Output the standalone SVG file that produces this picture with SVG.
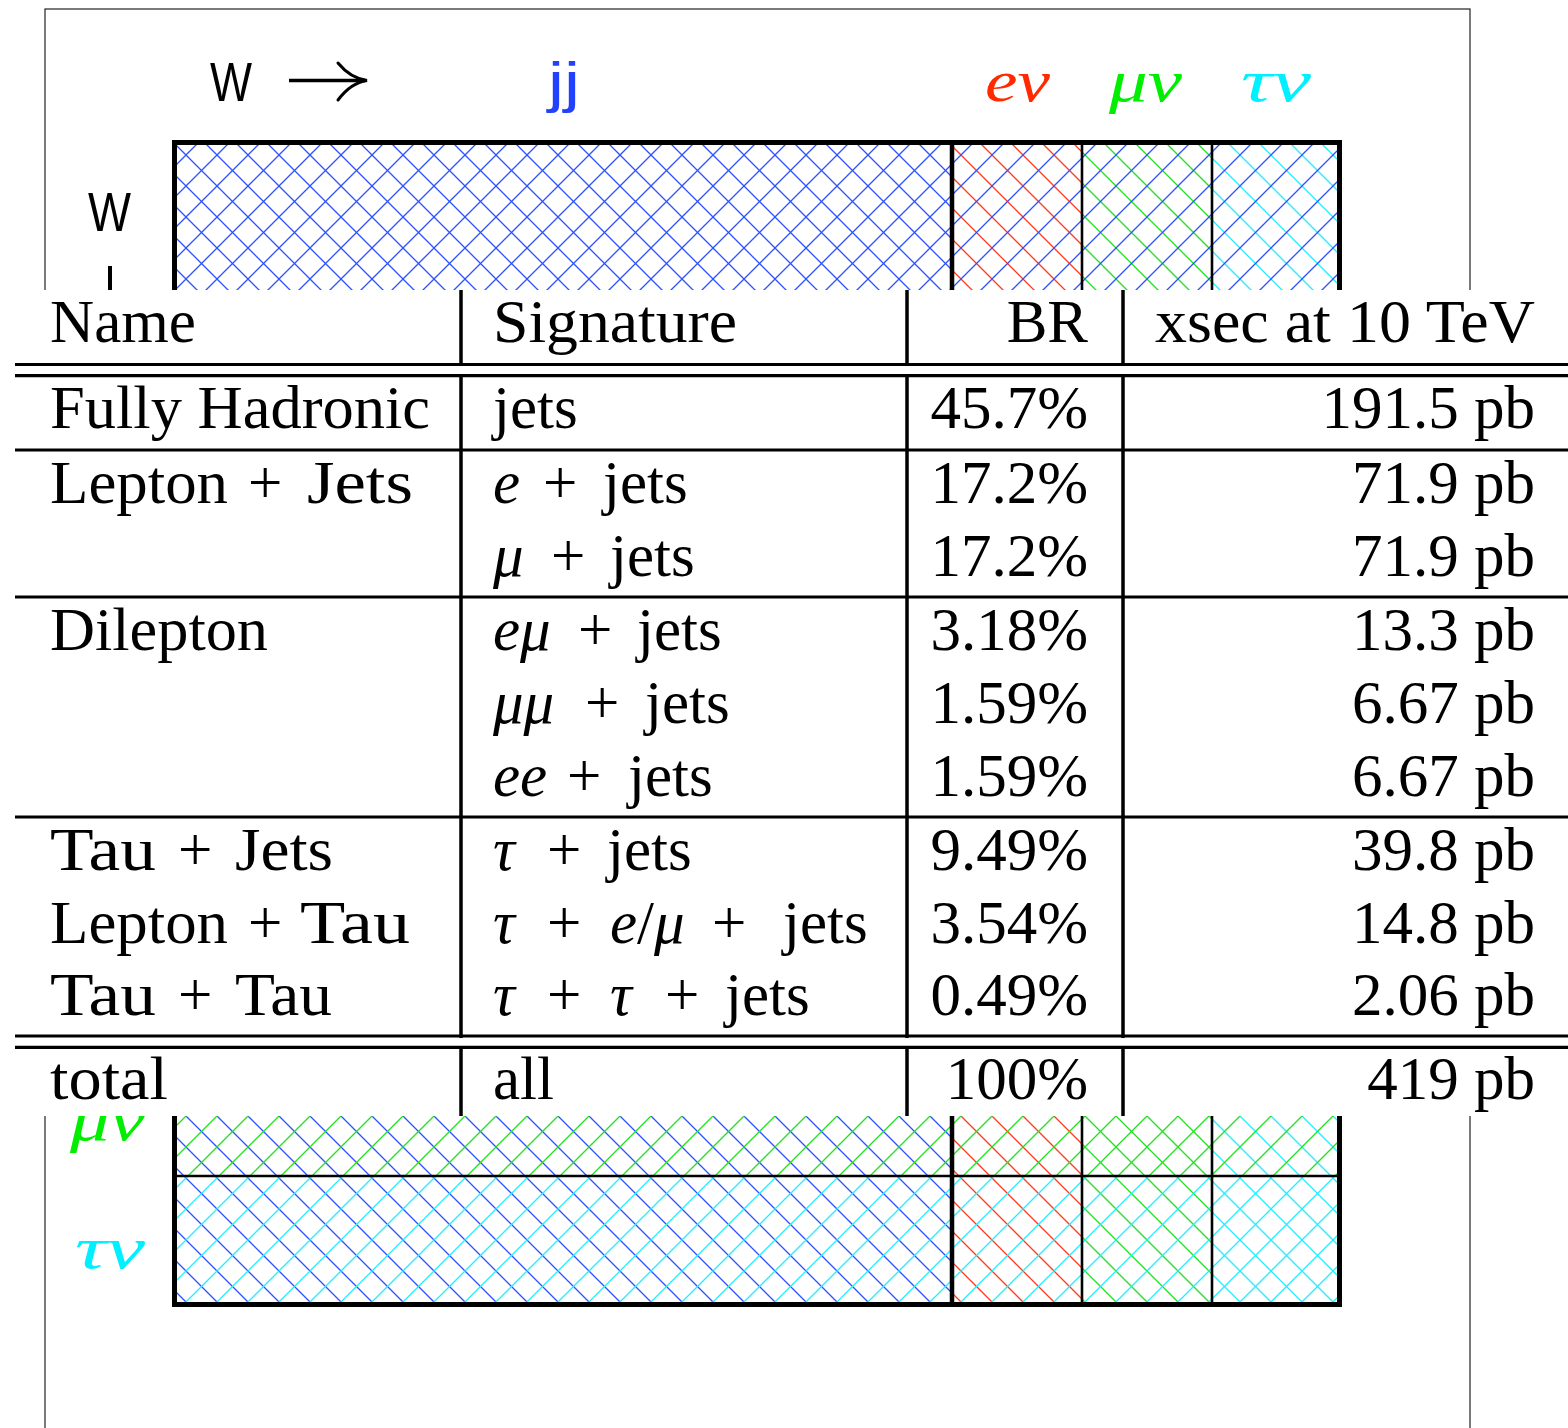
<svg xmlns="http://www.w3.org/2000/svg" width="1568" height="1428" viewBox="0 0 1568 1428">
  <style>
    .frame { fill: none; stroke: #222; stroke-width: 1.2; }
    .cell { stroke: none; }
    .thick { stroke: #000; stroke-width: 5; fill: none; }
    .mid { stroke: #000; stroke-width: 4.5; }
    .thin { stroke: #000; stroke-width: 2.6; }
    .sans { font-family: "Liberation Sans", "DejaVu Sans", Arial, sans-serif; font-size: 56px; fill: #000; }
    .mlab { font-family: "Liberation Serif", "DejaVu Serif", serif; font-style: italic; font-size: 60px; }
    .tbl { font-family: "Liberation Serif", "DejaVu Serif", "Times New Roman", serif; font-size: 61px; fill: #000; }
    .r { text-anchor: end; }
    .it { font-style: italic; }
    .hl { stroke: #000; stroke-width: 3.2; }
    .vl { stroke: #000; stroke-width: 3.5; }
    .hb { stroke: #2f52ff; stroke-width: 1.35; fill: none; }
    .hr { stroke: #ff3b1f; stroke-width: 1.35; fill: none; }
    .hg { stroke: #22e022; stroke-width: 1.35; fill: none; }
    .hc { stroke: #22eeff; stroke-width: 1.35; fill: none; }
  </style>
  <defs>
    <!-- one diagonal family per tile half: "\" carries the column colour, "/" the row colour -->
    <path id="bs" d="M-2,-2 L33,33 M-2,29 L2,33 M29,-2 L33,2"/>
    <path id="fs" d="M-2,33 L33,-2 M-2,2 L2,-2 M29,33 L33,29"/>
    <pattern id="h-bb" width="31" height="31" patternUnits="userSpaceOnUse"><use href="#bs" class="hb"/><use href="#fs" class="hb"/></pattern>
    <pattern id="h-br" width="31" height="31" patternUnits="userSpaceOnUse"><use href="#bs" class="hr"/><use href="#fs" class="hb"/></pattern>
    <pattern id="h-bg" width="31" height="31" patternUnits="userSpaceOnUse"><use href="#bs" class="hg"/><use href="#fs" class="hb"/></pattern>
    <pattern id="h-bc" width="31" height="31" patternUnits="userSpaceOnUse"><use href="#bs" class="hc"/><use href="#fs" class="hb"/></pattern>
    <pattern id="h-rb" width="31" height="31" patternUnits="userSpaceOnUse"><use href="#bs" class="hb"/><use href="#fs" class="hr"/></pattern>
    <pattern id="h-rr" width="31" height="31" patternUnits="userSpaceOnUse"><use href="#bs" class="hr"/><use href="#fs" class="hr"/></pattern>
    <pattern id="h-rg" width="31" height="31" patternUnits="userSpaceOnUse"><use href="#bs" class="hg"/><use href="#fs" class="hr"/></pattern>
    <pattern id="h-rc" width="31" height="31" patternUnits="userSpaceOnUse"><use href="#bs" class="hc"/><use href="#fs" class="hr"/></pattern>
    <pattern id="h-gb" width="31" height="31" patternUnits="userSpaceOnUse"><use href="#bs" class="hb"/><use href="#fs" class="hg"/></pattern>
    <pattern id="h-gr" width="31" height="31" patternUnits="userSpaceOnUse"><use href="#bs" class="hr"/><use href="#fs" class="hg"/></pattern>
    <pattern id="h-gg" width="31" height="31" patternUnits="userSpaceOnUse"><use href="#bs" class="hg"/><use href="#fs" class="hg"/></pattern>
    <pattern id="h-gc" width="31" height="31" patternUnits="userSpaceOnUse"><use href="#bs" class="hc"/><use href="#fs" class="hg"/></pattern>
    <pattern id="h-cb" width="31" height="31" patternUnits="userSpaceOnUse"><use href="#bs" class="hb"/><use href="#fs" class="hc"/></pattern>
    <pattern id="h-cr" width="31" height="31" patternUnits="userSpaceOnUse"><use href="#bs" class="hr"/><use href="#fs" class="hc"/></pattern>
    <pattern id="h-cg" width="31" height="31" patternUnits="userSpaceOnUse"><use href="#bs" class="hg"/><use href="#fs" class="hc"/></pattern>
    <pattern id="h-cc" width="31" height="31" patternUnits="userSpaceOnUse"><use href="#bs" class="hc"/><use href="#fs" class="hc"/></pattern>
    <clipPath id="below-table"><rect x="0" y="1116" width="400" height="312"/></clipPath>
  </defs>

  <rect width="1568" height="1428" fill="#fff"/>

  <!-- W decay chart in the background -->
  <g id="chart">
    <rect class="frame" x="45" y="9" width="1425" height="1500"/>

    <text class="sans" x="210" y="101" textLength="42" lengthAdjust="spacingAndGlyphs">W</text>
    <path d="M289,80.5 H365" stroke="#000" stroke-width="3.4" fill="none"/>
    <path d="M338,63 C347,74 356,79 367,80.5 C356,82 347,88 338,100" stroke="#000" stroke-width="3" fill="none" stroke-linecap="round"/>
    <text class="sans" x="548" y="101" style="fill:#2241ff" textLength="32" lengthAdjust="spacingAndGlyphs">jj</text>
    <text class="mlab" x="985" y="101" fill="#ff2a00" textLength="65" lengthAdjust="spacingAndGlyphs">eν</text>
    <text class="mlab" x="1109" y="101" fill="#00ee00" textLength="73" lengthAdjust="spacingAndGlyphs">μν</text>
    <text class="mlab" x="1241" y="101" fill="#00f0ff" textLength="70" lengthAdjust="spacingAndGlyphs">τν</text>

    <text class="sans" x="88" y="231" textLength="43" lengthAdjust="spacingAndGlyphs">W</text>
    <path d="M110,266 V300" stroke="#000" stroke-width="4"/>
    <g clip-path="url(#below-table)">
      <text class="mlab" x="70" y="1140" fill="#00ee00" textLength="75" lengthAdjust="spacingAndGlyphs">μν</text>
    </g>
    <text class="mlab" x="75" y="1268" fill="#00f0ff" textLength="70" lengthAdjust="spacingAndGlyphs">τν</text>

    <!-- hatched cells: rows jj, eν, μν, τν by columns jj, eν, μν, τν -->
    <g id="cells">
      <rect class="cell" x="174" y="140" width="778" height="778" fill="url(#h-bb)"/>
      <rect class="cell" x="952" y="140" width="130" height="778" fill="url(#h-br)"/>
      <rect class="cell" x="1082" y="140" width="130" height="778" fill="url(#h-bg)"/>
      <rect class="cell" x="1212" y="140" width="128" height="778" fill="url(#h-bc)"/>
      <rect class="cell" x="174" y="918" width="778" height="129" fill="url(#h-rb)"/>
      <rect class="cell" x="952" y="918" width="130" height="129" fill="url(#h-rr)"/>
      <rect class="cell" x="1082" y="918" width="130" height="129" fill="url(#h-rg)"/>
      <rect class="cell" x="1212" y="918" width="128" height="129" fill="url(#h-rc)"/>
      <rect class="cell" x="174" y="1047" width="778" height="129" fill="url(#h-gb)"/>
      <rect class="cell" x="952" y="1047" width="130" height="129" fill="url(#h-gr)"/>
      <rect class="cell" x="1082" y="1047" width="130" height="129" fill="url(#h-gg)"/>
      <rect class="cell" x="1212" y="1047" width="128" height="129" fill="url(#h-gc)"/>
      <rect class="cell" x="174" y="1176" width="778" height="129" fill="url(#h-cb)"/>
      <rect class="cell" x="952" y="1176" width="130" height="129" fill="url(#h-cr)"/>
      <rect class="cell" x="1082" y="1176" width="130" height="129" fill="url(#h-cg)"/>
      <rect class="cell" x="1212" y="1176" width="128" height="129" fill="url(#h-cc)"/>
    </g>
    <g id="grid-lines">
      <path class="mid" d="M952,140 V1305 M174,918 H1340"/>
      <path class="thin" d="M1082,140 V1305 M1212,140 V1305 M174,1047 H1340 M174,1176 H1340"/>
      <rect class="thick" x="174.5" y="142.5" width="1165" height="1162"/>
    </g>
  </g>

  <!-- table of ttbar decay channels -->
  <g id="table">
    <rect x="0" y="290" width="1568" height="826" fill="#fff"/>
    <g id="rules">
      <path class="hl" d="M15,364.5 H1568 M15,375.7 H1568 M15,450 H1568 M15,597 H1568 M15,817 H1568 M15,1036 H1568 M15,1047.3 H1568"/>
      <path class="vl" d="M461,290 V366 M461,374 V1038 M461,1046 V1116 M907,290 V366 M907,374 V1038 M907,1046 V1116 M1123,290 V366 M1123,374 V1038 M1123,1046 V1116"/>
    </g>

    <g id="header" class="tbl">
      <text x="50" y="342" textLength="146" lengthAdjust="spacingAndGlyphs">Name</text>
      <text x="493" y="342" textLength="244" lengthAdjust="spacingAndGlyphs">Signature</text>
      <text class="r" x="1088" y="342">BR</text>
      <text class="r" x="1535" y="342" textLength="380" lengthAdjust="spacingAndGlyphs">xsec at 10 TeV</text>
    </g>

    <g id="row-hadronic" class="tbl">
      <text x="50" y="428" textLength="380" lengthAdjust="spacingAndGlyphs">Fully Hadronic</text>
      <text x="493" y="428">jets</text>
      <text class="r" x="1088" y="428">45.7%</text>
      <text class="r" x="1535" y="428">191.5 pb</text>
    </g>

    <g id="row-leptonjets" class="tbl">
      <text x="50" y="503"><tspan textLength="178" lengthAdjust="spacingAndGlyphs">Lepton</tspan><tspan x="248">+</tspan><tspan x="307" textLength="106" lengthAdjust="spacingAndGlyphs">Jets</tspan></text>
      <text x="493" y="503"><tspan class="it">e</tspan><tspan x="543">+</tspan><tspan x="603">jets</tspan></text>
      <text class="r" x="1088" y="503">17.2%</text>
      <text class="r" x="1535" y="503">71.9 pb</text>
      <text x="493" y="576"><tspan class="it">μ</tspan><tspan x="551">+</tspan><tspan x="610">jets</tspan></text>
      <text class="r" x="1088" y="576">17.2%</text>
      <text class="r" x="1535" y="576">71.9 pb</text>
    </g>

    <g id="row-dilepton" class="tbl">
      <text x="50" y="650" textLength="218" lengthAdjust="spacingAndGlyphs">Dilepton</text>
      <text x="493" y="650"><tspan class="it">eμ</tspan><tspan x="578">+</tspan><tspan x="637">jets</tspan></text>
      <text class="r" x="1088" y="650">3.18%</text>
      <text class="r" x="1535" y="650">13.3 pb</text>
      <text x="493" y="723"><tspan class="it">μμ</tspan><tspan x="585">+</tspan><tspan x="645">jets</tspan></text>
      <text class="r" x="1088" y="723">1.59%</text>
      <text class="r" x="1535" y="723">6.67 pb</text>
      <text x="493" y="796"><tspan class="it">ee</tspan><tspan x="567">+</tspan><tspan x="628">jets</tspan></text>
      <text class="r" x="1088" y="796">1.59%</text>
      <text class="r" x="1535" y="796">6.67 pb</text>
    </g>

    <g id="row-tau" class="tbl">
      <text x="50" y="870"><tspan textLength="106" lengthAdjust="spacingAndGlyphs">Tau</tspan><tspan x="178">+</tspan><tspan x="235" textLength="98" lengthAdjust="spacingAndGlyphs">Jets</tspan></text>
      <text x="493" y="870"><tspan class="it">τ</tspan><tspan x="547">+</tspan><tspan x="607">jets</tspan></text>
      <text class="r" x="1088" y="870">9.49%</text>
      <text class="r" x="1535" y="870">39.8 pb</text>
      <text x="50" y="943"><tspan textLength="178" lengthAdjust="spacingAndGlyphs">Lepton</tspan><tspan x="248">+</tspan><tspan x="300" textLength="110" lengthAdjust="spacingAndGlyphs">Tau</tspan></text>
      <text x="493" y="943"><tspan class="it">τ</tspan><tspan x="547">+</tspan><tspan x="610" class="it">e</tspan><tspan>/</tspan><tspan class="it">μ</tspan><tspan x="712">+</tspan><tspan x="783">jets</tspan></text>
      <text class="r" x="1088" y="943">3.54%</text>
      <text class="r" x="1535" y="943">14.8 pb</text>
      <text x="50" y="1015"><tspan textLength="106" lengthAdjust="spacingAndGlyphs">Tau</tspan><tspan x="178">+</tspan><tspan x="235" textLength="97" lengthAdjust="spacingAndGlyphs">Tau</tspan></text>
      <text x="493" y="1015"><tspan class="it">τ</tspan><tspan x="547">+</tspan><tspan x="610" class="it">τ</tspan><tspan x="665">+</tspan><tspan x="725">jets</tspan></text>
      <text class="r" x="1088" y="1015">0.49%</text>
      <text class="r" x="1535" y="1015">2.06 pb</text>
    </g>

    <g id="row-total" class="tbl">
      <text x="50" y="1099" textLength="118" lengthAdjust="spacingAndGlyphs">total</text>
      <text x="493" y="1099">all</text>
      <text class="r" x="1088" y="1099">100%</text>
      <text class="r" x="1535" y="1099">419 pb</text>
    </g>
  </g>
</svg>
